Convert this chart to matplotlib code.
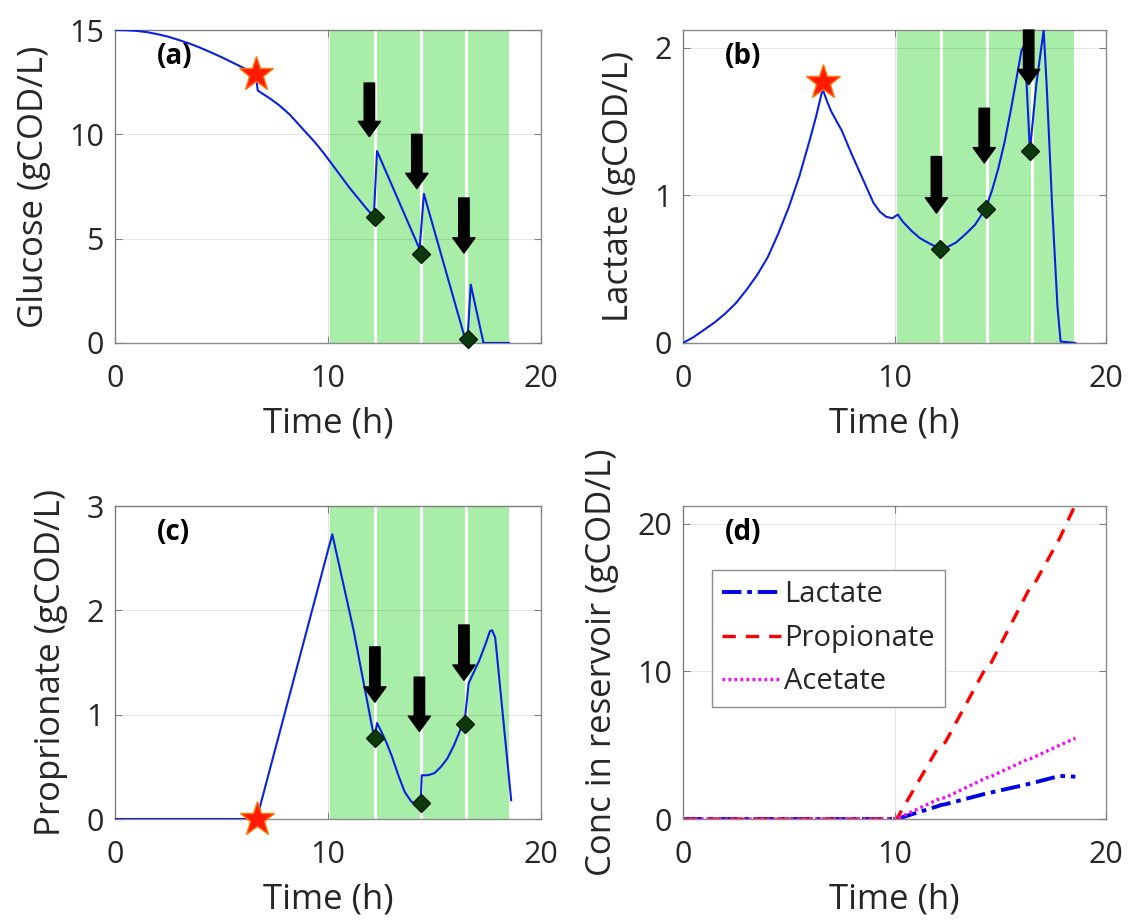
import matplotlib
matplotlib.use('Agg')
import matplotlib.pyplot as plt

plt.rcParams['font.family'] = ['Open Sans', 'DejaVu Sans']

# ============ data ============
# (a) glucose in reactor
t_glu = [0, 0.5, 1, 1.5, 2, 2.5, 3, 3.5, 4, 4.5, 5, 5.5, 6, 6.6, 6.7, 6.85, 7.3, 7.7,
         8.2, 8.6, 9.0, 9.4, 9.8, 10.2, 10.6, 11.0, 11.4, 11.8, 12.15, 12.3, 14.3,
         14.5, 16.45, 16.55, 16.7, 17.3, 18.5]
glucose = [15, 14.99, 14.96, 14.9, 14.8, 14.68, 14.52, 14.35, 14.15, 13.93, 13.7,
           13.45, 13.2, 12.9, 12.1, 12.0, 11.7, 11.4, 10.95, 10.5, 10.05, 9.6, 9.1,
           8.55, 8.0, 7.45, 6.95, 6.45, 6.05, 9.2, 4.5, 7.15, 0.15, 0.2, 2.8, 0, 0]

# (b) lactate in reactor
t_lac = [0, 0.5, 1, 1.5, 2, 2.5, 3, 3.5, 4, 4.5, 5, 5.5, 6, 6.3, 6.6, 6.8, 7.0, 7.5,
         8.0, 8.5, 9.0, 9.3, 9.6, 9.9, 10.15, 10.4, 10.8, 11.2, 11.7, 12.15, 12.5,
         12.9, 13.3, 13.8, 14.3, 14.6, 14.9, 15.2, 15.5, 15.8, 16.0, 16.15, 16.4,
         16.7, 17.05, 17.2, 17.45, 17.7, 17.85, 18.55]
lactate = [0, 0.04, 0.09, 0.14, 0.2, 0.27, 0.36, 0.46, 0.58, 0.74, 0.92, 1.13, 1.38,
           1.54, 1.72, 1.64, 1.57, 1.44, 1.27, 1.11, 0.95, 0.89, 0.855, 0.845, 0.87,
           0.82, 0.76, 0.71, 0.67, 0.64, 0.65, 0.68, 0.73, 0.8, 0.91, 1.03, 1.18,
           1.36, 1.58, 1.82, 1.98, 2.02, 1.3, 1.75, 2.12, 1.72, 0.93, 0.25, 0.01, 0]

# (c) propionate in reactor
t_pro = [0, 6.65, 10.2, 11.2, 12.1, 12.2, 12.3, 12.5, 12.75, 13.0, 13.3, 13.6, 13.9,
         14.1, 14.35, 14.4, 14.7, 15.0, 15.3, 15.6, 15.9, 16.2, 16.35, 16.45, 16.6,
         17.1, 17.4, 17.6, 17.7, 17.85, 18.6]
propionate = [0, 0, 2.73, 1.81, 0.85, 0.8, 0.92, 0.84, 0.73, 0.6, 0.42, 0.26, 0.17,
              0.14, 0.15, 0.42, 0.42, 0.44, 0.5, 0.58, 0.7, 0.85, 0.95, 1.0, 1.3,
              1.52, 1.68, 1.8, 1.81, 1.74, 0.18]

# (d) accumulated in reservoir
t_res = [0, 10.1, 12.0, 12.2, 12.4, 14.2, 14.35, 14.5, 16.3, 16.45, 16.6, 17.8, 18.55]
res_lactate = [0, 0, 0.85, 0.95, 1.0, 1.68, 1.74, 1.78, 2.36, 2.42, 2.47, 2.92, 2.87]
res_propionate = [0, 0, 4.7, 5.05, 5.2, 9.95, 10.3, 10.4, 15.4, 15.75, 15.9, 19.0, 21.3]
res_acetate = [0, 0, 1.3, 1.4, 1.45, 2.7, 2.8, 2.85, 4.05, 4.1, 4.2, 5.0, 5.47]

# feeding phase and pulses
feed_edges = [10.1, 12.2, 14.35, 16.5, 18.5]
pulse_times = [12.2, 14.35, 16.5]

# markers: star = switch, diamond = pulse
star_a = (6.6, 12.9)
star_b = (6.6, 1.77)
star_c = (6.65, 0.0)
dia_t_a = [12.2, 14.35, 16.55]
dia_y_a = [6.05, 4.27, 0.2]
dia_t_b = [12.17, 14.3, 16.4]
dia_y_b = [0.64, 0.91, 1.30]
dia_t_c = [12.2, 14.35, 16.45]
dia_y_c = [0.78, 0.15, 0.91]

# arrows: x, y top, y bottom
arr_a = [(11.94, 12.46, 9.89), (14.17, 10.0, 7.4), (16.38, 6.95, 4.31)]
arr_b = [(11.98, 1.263, 0.88), (14.24, 1.59, 1.22), (16.34, 2.12, 1.75)]
arr_c = [(12.2, 1.65, 1.12), (14.29, 1.36, 0.84), (16.38, 1.86, 1.33)]

TXT = '#262626'
GREEN = '#a8eea8'
LINE_BLUE = '#0a22e0'


def style_axes(ax, ylim, yticks, ylabel):
    ax.set_xlim(0, 20)
    ax.set_ylim(*ylim)
    ax.set_xticks([0, 10, 20])
    ax.set_yticks(yticks)
    ax.tick_params(direction='in', length=5, width=0.8, color='#808080',
                   labelsize=22, labelcolor=TXT, top=True, right=True)
    ax.tick_params(axis='x', pad=15)
    ax.tick_params(axis='y', pad=8)
    for s in ax.spines.values():
        s.set_color('#8c8c8c')
        s.set_linewidth(1.0)
    ax.set_axisbelow(False)
    ax.grid(True, color='k', alpha=0.1, linewidth=0.8)
    ax.set_xlabel('Time (h)', fontsize=25, color=TXT, labelpad=9)
    ax.set_ylabel(ylabel, fontsize=25, color=TXT, labelpad=13)


def draw_feed(ax):
    for i in range(len(feed_edges) - 1):
        ax.axvspan(feed_edges[i], feed_edges[i + 1], color=GREEN, lw=0, zorder=0)
    for p in pulse_times:
        ax.axvline(p, color='white', lw=2.2, zorder=0.5)


def draw_arrows(ax, arrows):
    for x, y0, y1 in arrows:
        ax.annotate('', xy=(x, y1), xytext=(x, y0),
                    arrowprops=dict(arrowstyle='simple,head_width=1.6,head_length=1.1,tail_width=0.75',
                                    fc='k', ec='k', shrinkA=0, shrinkB=0, mutation_scale=10),
                    zorder=5, annotation_clip=False)


def draw_panel(ax, t, y, star, dia_t, dia_y, arrows, tag):
    draw_feed(ax)
    ax.plot(t, y, color=LINE_BLUE, lw=1.5, zorder=3)
    ax.plot(*star, marker='*', markersize=26, color='#ff1a00', mec='#ff7a00',
            mew=1.0, zorder=6, clip_on=False, linestyle='none')
    ax.plot(dia_t, dia_y, marker='D', markersize=9, color='#0c3a0c', mec='#051a05',
            linestyle='none', zorder=6, clip_on=False)
    draw_arrows(ax, arrows)
    ax.text(0.098, 0.915, tag, transform=ax.transAxes, fontsize=20,
            fontweight='bold', color='k', va='center', ha='left')


fig = plt.figure(figsize=(11.29, 9.24), dpi=100)
ax_a = fig.add_axes([0.1019, 0.6288, 0.3773, 0.3387])
ax_b = fig.add_axes([0.6050, 0.6288, 0.3747, 0.3387])
ax_c = fig.add_axes([0.1019, 0.1136, 0.3773, 0.3387])
ax_d = fig.add_axes([0.6050, 0.1136, 0.3747, 0.3387])

draw_panel(ax_a, t_glu, glucose, star_a, dia_t_a, dia_y_a, arr_a, '(a)')
style_axes(ax_a, (0, 15), [0, 5, 10, 15], 'Glucose (gCOD/L)')

draw_panel(ax_b, t_lac, lactate, star_b, dia_t_b, dia_y_b, arr_b, '(b)')
style_axes(ax_b, (0, 2.12), [0, 1, 2], 'Lactate (gCOD/L)')

draw_panel(ax_c, t_pro, propionate, star_c, dia_t_c, dia_y_c, arr_c, '(c)')
style_axes(ax_c, (0, 3), [0, 1, 2, 3], 'Proprionate (gCOD/L)')

# (d) reservoir
ax_d.plot(t_res, res_lactate, color='#0000e6', lw=2.8, linestyle=(0, (5, 1.5, 1.2, 1.5)), label='Lactate')
ax_d.plot(t_res, res_propionate, color='#ff0000', lw=2.4, linestyle=(0, (4, 3)), label='Propionate')
ax_d.plot(t_res, res_acetate, color='#ff00ff', lw=2.4, linestyle=(0, (0.8, 1.0)), label='Acetate')
style_axes(ax_d, (0, 21.2), [0, 10, 20], 'Conc in reservoir (gCOD/L)')
ax_d.text(0.098, 0.915, '(d)', transform=ax_d.transAxes, fontsize=20,
          fontweight='bold', color='k', va='center', ha='left')
leg = ax_d.legend(loc='upper left', bbox_to_anchor=(0.0686, 0.7955), borderaxespad=0,
                  fontsize=21, handlelength=2.0, handletextpad=0.12, labelspacing=0.5,
                  borderpad=0.35, fancybox=False, framealpha=1, edgecolor='#8c8c8c')
leg.get_frame().set_linewidth(1.0)
for txt in leg.get_texts():
    txt.set_color(TXT)

plt.savefig('out.png', dpi=100, facecolor='white')
